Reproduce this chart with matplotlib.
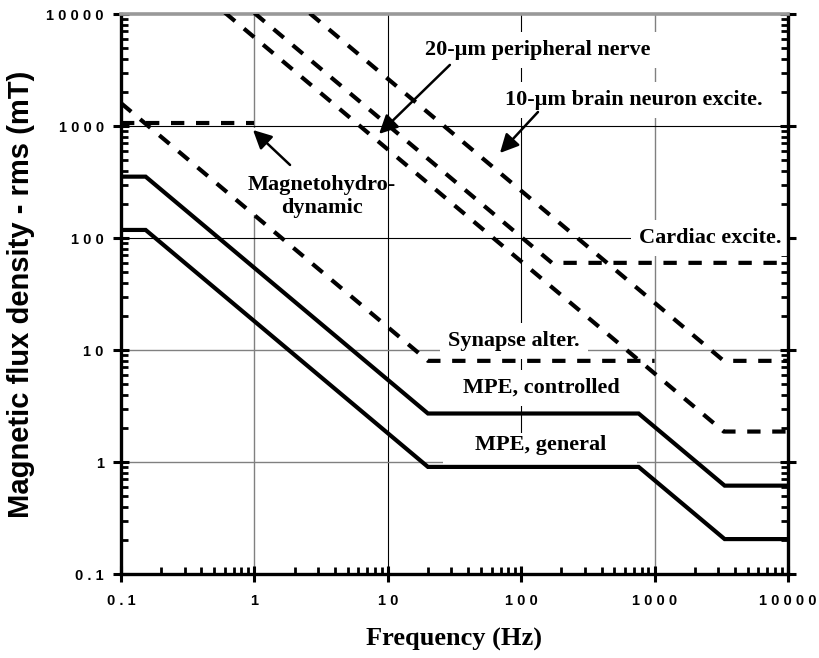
import numpy as np
import matplotlib as mpl
mpl.use("Agg")
import matplotlib.pyplot as plt
import matplotlib.ticker as mticker
from matplotlib.patches import Rectangle

SERIF = ["Liberation Serif", "DejaVu Serif"]
SANS = ["Liberation Sans", "DejaVu Sans"]

# MPE limits (solid)
mpe_f = [0.1, 0.153, 20, 759, 3350, 10000]
mpe_ctrl_b = [353, 353, 2.71, 2.71, 0.615, 0.615]
mpe_gen_b = [118, 118, 0.904, 0.904, 0.205, 0.205]

# thresholds (dashed)
cardiac_f = [1.0, 170, 10000]
cardiac_b = [10200, 60, 60]
nerve20_f = [0.6, 3300, 10000]
nerve20_b = [10300, 1.87, 1.87]
brain10_f = [2.6, 3300, 10000]
brain10_b = [10150, 8, 8]
synapse_f = [0.1, 20, 1000]
synapse_b = [1600, 8, 8]
mhd_f = [0.1, 1.0]
mhd_b = [1070, 1070]

xticks = [0.1, 1, 10, 100, 1000, 10000]
yticks = [0.1, 1, 10, 100, 1000, 10000]
tick_lbl = ["0.1", "1", "10", "100", "1000", "10000"]

fig = plt.figure(figsize=(8.2, 6.58), dpi=100)
ax = fig.add_axes([121/820, 84/658, 667/820, 560/658])
ax.set_xscale("log"); ax.set_yscale("log")
ax.set_xlim(0.1, 10000); ax.set_ylim(0.1, 10000)

# grid lines, some black some gray
for v, c in [(1, "#808080"), (10, "k"), (100, "k"), (1000, "#808080")]:
    ax.axvline(v, color=c, lw=0.8 if c == "k" else 1.0, zorder=1)
for v, c in [(1, "#808080"), (10, "#808080"), (100, "k"), (1000, "k")]:
    ax.axhline(v, color=c, lw=0.8 if c == "k" else 1.0, zorder=1)

# white panels behind some labels
ax.add_patch(Rectangle((0.483, 0.0), 0.291, 0.252, transform=ax.transAxes,
                       fc="white", ec="none", zorder=1.5))
ax.add_patch(Rectangle((0.193, 0.641), 0.195, 0.155, transform=ax.transAxes,
                       fc="white", ec="none", zorder=1.5))

LW = 3.0
dkw = dict(color="k", lw=LW, ls=(0, (3.2, 2.8)), dash_capstyle="butt", zorder=3)
ax.plot(mpe_f, mpe_ctrl_b, color="k", lw=LW, zorder=3, solid_joinstyle="miter")
ax.plot(mpe_f, mpe_gen_b, color="k", lw=LW, zorder=3, solid_joinstyle="miter")
ax.plot(cardiac_f, cardiac_b, **dkw)
ax.plot(nerve20_f, nerve20_b, **dkw)
ax.plot(brain10_f, brain10_b, **dkw)
ax.plot(synapse_f, synapse_b, **dkw)
ax.plot(mhd_f, mhd_b, **dkw)

# spines and ticks
for s in ["left", "bottom", "right"]:
    ax.spines[s].set_linewidth(2.4); ax.spines[s].set_color("k")
ax.spines["top"].set_linewidth(2.6); ax.spines["top"].set_color("#999999")
ax.xaxis.set_major_locator(mticker.FixedLocator(xticks))
ax.yaxis.set_major_locator(mticker.FixedLocator(yticks))
ax.xaxis.set_minor_locator(mticker.LogLocator(base=10, subs=np.arange(2, 10)))
ax.yaxis.set_minor_locator(mticker.LogLocator(base=10, subs=np.arange(2, 10)))
sp = "\u2009\u200a"
ax.xaxis.set_major_formatter(mticker.FixedFormatter([sp.join(t) for t in tick_lbl]))
ax.yaxis.set_major_formatter(mticker.FixedFormatter([sp.join(t) for t in tick_lbl]))
ax.xaxis.set_minor_formatter(mticker.NullFormatter())
ax.yaxis.set_minor_formatter(mticker.NullFormatter())
ax.tick_params(which="major", direction="inout", length=11, width=2.2, right=True, top=False, pad=7)
ax.tick_params(which="minor", direction="in", length=5, width=2.0, right=True, top=False)
ax.tick_params(axis="x", which="major", pad=9)
for lab in ax.get_xticklabels() + ax.get_yticklabels():
    lab.set_family(SANS); lab.set_fontweight("bold"); lab.set_fontsize(10.5)

ax.set_xlabel("Frequency (Hz)", family=SERIF, fontweight="bold", fontsize=19, labelpad=14)
ax.set_ylabel("Magnetic flux density - rms (mT)", family=SANS, fontweight="bold", fontsize=21, labelpad=8)

# labels
tkw = dict(family=SERIF, fontweight="bold", fontsize=16, ha="center", va="center", zorder=2)
box = dict(boxstyle="square,pad=0.35", fc="white", ec="none")
akw = dict(arrowstyle="-|>", color="k", lw=1.8, mutation_scale=28, shrinkA=0, shrinkB=0)

ax.text(134, 4775, "20-\u03bcm peripheral nerve", bbox=box, **tkw)
ax.annotate("", xy=(8.6, 850), xytext=(29.2, 3510), arrowprops=akw, zorder=4)
ax.text(701, 1706, "10-\u03bcm brain neuron excite.", bbox=box, **tkw)
ax.annotate("", xy=(69.3, 574), xytext=(133.6, 1334), arrowprops=akw, zorder=4)
ax.text(3.2, 235, "Magnetohydro-\ndynamic", linespacing=1.15, **tkw)
ax.annotate("", xy=(0.976, 921), xytext=(1.85, 449), arrowprops=akw, zorder=4)
ax.text(2600, 100, "Cardiac excite.", bbox=box, **tkw)
ax.text(88.3, 12.0, "Synapse alter.", bbox=box, **tkw)
ax.text(140.6, 4.58, "MPE, controlled", bbox=box, **tkw)
ax.text(140.6, 1.42, "MPE, general", **tkw)

fig.savefig("out.png", dpi=100, facecolor="white")
